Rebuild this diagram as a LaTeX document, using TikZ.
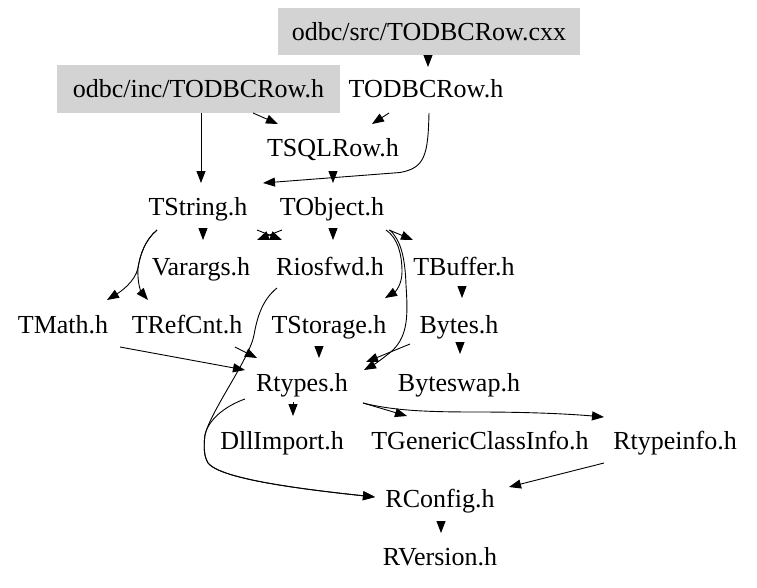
\documentclass[tikz,border=0pt]{standalone}
\usepackage{fontspec}
\setmainfont{Liberation Serif}
\usetikzlibrary{arrows.meta,calc}
\definecolor{boxgray}{RGB}{211,211,211}
\tikzset{
  lbl/.style={font=\fontsize{26}{30}\selectfont, inner sep=0pt, text height=17pt, text depth=0pt},
  filebox/.style={lbl, fill=boxgray, draw=none},
  arr/.style={-{Triangle[length=12pt,width=9pt]}, line width=0.9pt, black}
}
\begin{document}
\begin{tikzpicture}[x=1pt,y=-1pt]
\useasboundingbox (0,0) rectangle (757,587);
% nodes
\node[filebox, minimum width=302pt, minimum height=47pt] (src) at (429,31.5) {odbc/src/TODBCRow.cxx};
\node[filebox, minimum width=283pt, minimum height=48pt] (inc) at (198.5,89) {odbc/inc/TODBCRow.h};
\node[lbl] (todbc) at (426,89) {TODBCRow.h};
\node[lbl] (tsql) at (333,148) {TSQLRow.h};
\node[lbl] (tstring) at (198,207) {TString.h};
\node[lbl] (tobject) at (332,207) {TObject.h};
\node[lbl] (varargs) at (201,267) {Varargs.h};
\node[lbl] (riosfwd) at (330,267) {Riosfwd.h};
\node[lbl] (tbuffer) at (464,267) {TBuffer.h};
\node[lbl] (tmath) at (63,325) {TMath.h};
\node[lbl] (trefcnt) at (187,325) {TRefCnt.h};
\node[lbl] (tstorage) at (329,325) {TStorage.h};
\node[lbl] (bytes) at (459,325) {Bytes.h};
\node[lbl] (rtypes) at (302,383) {Rtypes.h};
\node[lbl] (byteswap) at (459,383) {Byteswap.h};
\node[lbl] (dll) at (282,441) {DllImport.h};
\node[lbl] (tgci) at (480,441) {TGenericClassInfo.h};
\node[lbl] (rtypeinfo) at (675,441) {Rtypeinfo.h};
\node[lbl] (rconfig) at (440,499) {RConfig.h};
\node[lbl] (rversion) at (440,557) {RVersion.h};
% edges
\draw[arr] ($(src)+(-1,23.5)$) -- ($(todbc)+(2,-22)$);
\draw[arr] ($(inc)+(54.5,24)$) -- ($(tsql)+(-55,-24)$);
\draw[arr] ($(inc)+(2.5,24)$) -- ($(tstring)+(3,-24)$);
\draw[arr] ($(todbc)+(-37,24)$) -- ($(tsql)+(39,-24)$);
\draw[arr] ($(todbc)+(3,24)$) .. controls (428,155) and (425,168) .. (400,172.5) -- ($(tstring)+(65,-24)$);
\draw[arr] ($(tsql)+(0,24)$) -- ($(tobject)+(1,-24)$);
\draw[arr] ($(tstring)+(5,23)$) -- ($(varargs)+(2,-27)$);
\draw[arr] ($(tstring)+(59,23)$) -- ($(riosfwd)+(-48,-27)$);
\draw[arr] ($(tobject)+(-50,23)$) -- ($(varargs)+(56,-27)$);
\draw[arr] ($(tobject)+(1,23)$) -- ($(riosfwd)+(3,-27)$);
\draw[arr] ($(tobject)+(57,23)$) -- ($(tbuffer)+(-51,-27)$);
\draw[arr] ($(tobject)+(54,23)$) .. controls (398,238) and (402,255) .. (402,272) .. controls (402,285) and (395,292) .. ($(tstorage)+(56,-27)$);
\draw[arr] ($(tobject)+(58,23)$) .. controls (400,240) and (405,255) .. (406,285) .. controls (408,315) and (408,335) .. (393,350) .. controls (385,357) and (375,364) .. ($(rtypes)+(62,-13)$);
\draw[arr] ($(tbuffer)+(-2,21)$) -- ($(bytes)+(3,-27)$);
\draw[arr] ($(bytes)+(1,18)$) -- ($(byteswap)+(1,-29)$);
\draw[arr] ($(bytes)+(-49,19)$) -- ($(rtypes)+(64,-21)$);
\draw[arr] ($(tmath)+(57,22)$) -- ($(rtypes)+(-57,-13)$);
\draw[arr] ($(trefcnt)+(48,22)$) -- ($(rtypes)+(-45,-25)$);
\draw[arr] ($(tstorage)+(-10,23)$) -- ($(rtypes)+(17,-25)$);
\draw[arr] ($(riosfwd)+(-53,21)$) .. controls (262,300) and (257,318) .. (254,335) .. controls (250,358) and (210,412) .. (205,435) .. controls (203,450) and (205,458) .. (208,463) .. controls (220,478) and (290,488) .. ($(rconfig)+(-65,-2)$);
\draw[arr] ($(rtypes)+(-57,16)$) .. controls (225,406) and (208,420) .. (205,435) .. controls (203,450) and (205,458) .. (208,463) .. controls (220,478) and (290,488) .. ($(rconfig)+(-65,-2)$);
\draw[arr] ($(rtypes)+(-9,19)$) -- ($(dll)+(11,-25)$);
\draw[arr] ($(rtypes)+(61,20)$) -- ($(tgci)+(-73,-25)$);
\draw[arr] ($(rtypes)+(61,20)$) .. controls (395,411) and (430,412) .. (478,412) .. controls (530,412) and (570,414) .. ($(rtypeinfo)+(-71,-24)$);
\draw[arr] ($(rtypeinfo)+(-71,22)$) -- ($(rconfig)+(69,-12)$);
\draw[arr] ($(rconfig)+(1,23)$) -- ($(rversion)+(1,-24)$);
\draw[arr] ($(tstring)+(-41,23)$) .. controls (145,240) and (140,255) .. (138,268) .. controls (135,282) and (120,292) .. ($(tmath)+(44,-25)$);
\draw[arr] ($(tstring)+(-41,23)$) .. controls (145,240) and (140,255) .. (138,268) .. controls (137,285) and (142,293) .. ($(trefcnt)+(-39,-25)$);
\end{tikzpicture}
\end{document}
